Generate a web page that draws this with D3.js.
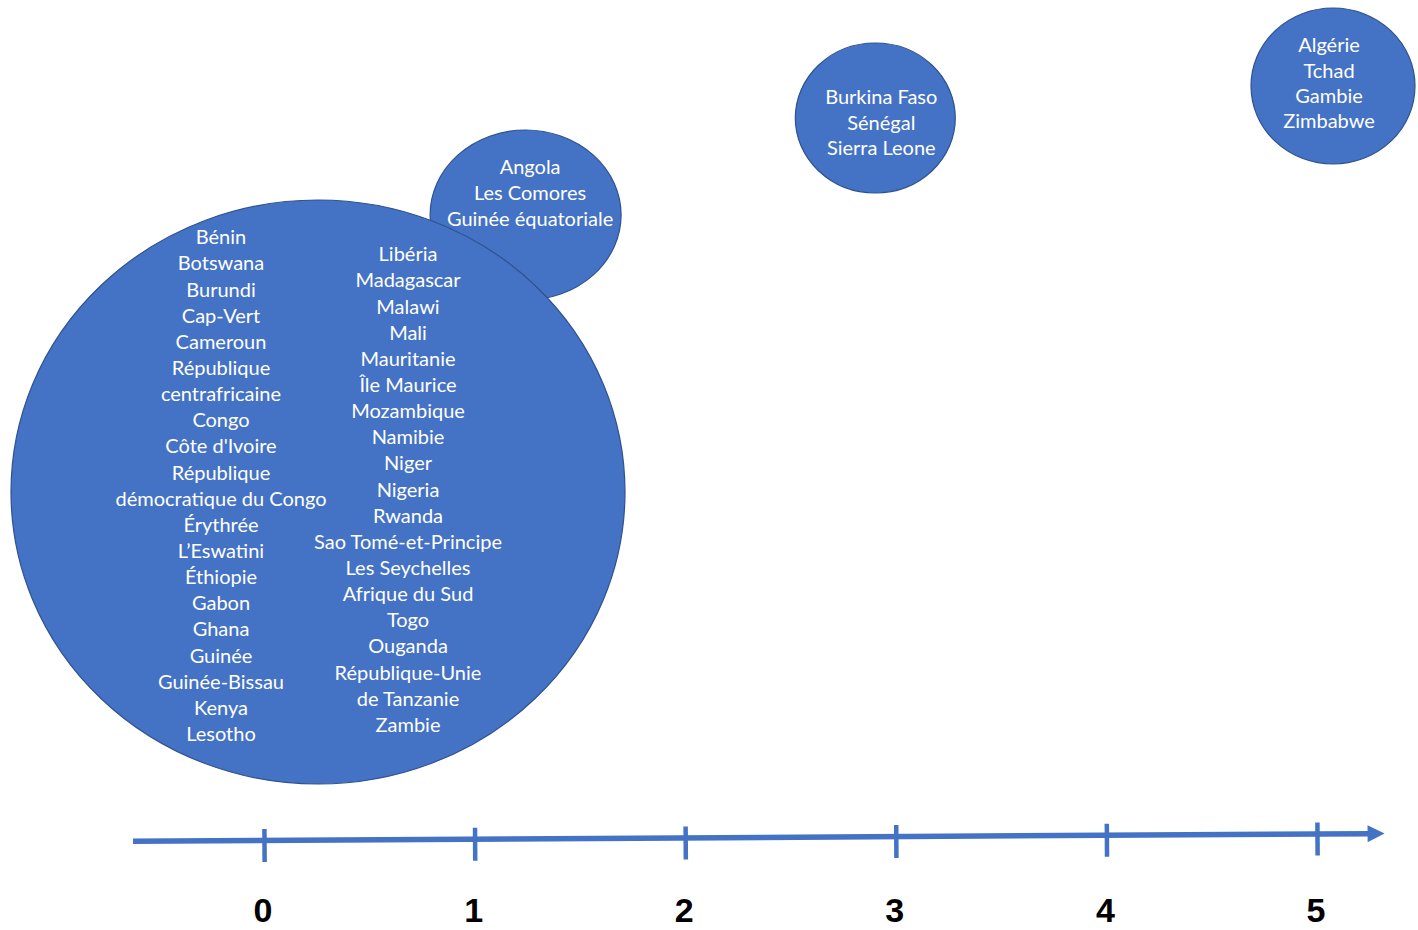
<!DOCTYPE html>
<html>
<head>
<meta charset="utf-8">
<script src="https://cdn.jsdelivr.net/npm/d3@7/dist/d3.min.js"></script>
<style>
  html, body { margin: 0; padding: 0; background: #ffffff; }
  svg { display: block; }
</style>
</head>
<body>
<svg id="chart" width="1418" height="930"></svg>
<script>
// ---------------- DATA ----------------
const axisValues = [0, 1, 2, 3, 4, 5];
const tickLabels = ["0", "1", "2", "3", "4", "5"];

// groups of countries by value on the axis ("\n" marks a line break inside a name)
const groupValues = [1, 0, 3, 5];
const group0Left = [
  "Bénin", "Botswana", "Burundi", "Cap-Vert", "Cameroun",
  "République\ncentrafricaine", "Congo", "Côte d'Ivoire",
  "République\ndémocratique du Congo", "Érythrée", "L’Eswatini",
  "Éthiopie", "Gabon", "Ghana", "Guinée", "Guinée-Bissau", "Kenya", "Lesotho"
];
const group0Right = [
  "Libéria", "Madagascar", "Malawi", "Mali", "Mauritanie", "Île Maurice",
  "Mozambique", "Namibie", "Niger", "Nigeria", "Rwanda",
  "Sao Tomé-et-Principe", "Les Seychelles", "Afrique du Sud", "Togo",
  "Ouganda", "République-Unie\nde Tanzanie", "Zambie"
];
const group1 = ["Angola", "Les Comores", "Guinée équatoriale"];
const group3 = ["Burkina Faso", "Sénégal", "Sierra Leone"];
const group5 = ["Algérie", "Tchad", "Gambie", "Zimbabwe"];

// ---------------- LAYOUT ----------------
const svg = d3.select("#chart");
const blue = "#4472C4";
const edge = "#2F528F";
const textFont = "Lato, 'Open Sans', sans-serif";

const x = d3.scaleLinear().domain([0, 5]).range([264, 1317]);

// bubble layout (pixels, relative to the axis position of each group)
const bubbleLayout = {
  1: { dx: 51, cy: 215, rx: 95.5, ry: 85 },
  0: { dx: 54,  cy: 492, rx: 307, ry: 292 },
  3: { dx: -20.5, cy: 118, rx: 80, ry: 75 },
  5: { dx: 16,  cy: 86,  rx: 82, ry: 78 }
};

const lineH = 26.15;

function lines(list) {
  return list.flatMap(s => s.split("\n"));
}

function textBlock(g, cx, firstY, list, step) {
  const ls = lines(list);
  g.selectAll(null)
    .data(ls)
    .enter()
    .append("text")
    .attr("x", cx)
    .attr("y", (d, i) => firstY + i * step)
    .attr("dy", "0.36em")
    .attr("text-anchor", "middle")
    .attr("fill", "#ffffff")
    .style("font-family", textFont)
    .style("font-size", "20px")
    .text(d => d);
}

const bubbles = svg.append("g");
groupValues.forEach(v => {
  const L = bubbleLayout[v];
  bubbles.append("ellipse")
    .attr("cx", x(v) + L.dx)
    .attr("cy", L.cy)
    .attr("rx", L.rx)
    .attr("ry", L.ry)
    .attr("fill", blue)
    .attr("stroke", edge)
    .attr("stroke-width", 1.2);
});

const labels = svg.append("g");
// group 0: two columns
textBlock(labels, x(0) - 43, 237, group0Left, lineH);
textBlock(labels, x(0) + 144, 254, group0Right, lineH);
// group 1
textBlock(labels, x(1) + 55.5, 167, group1, 26);
// group 3
textBlock(labels, x(3) - 14.5, 97, group3, 25.5);
// group 5
textBlock(labels, x(5) + 12, 45, group5, 25.4);

// ---------------- AXIS ----------------
const axisY = 840.5;
const tilt = -Math.atan2(6.5, 1052) * 180 / Math.PI;

const defs = svg.append("defs");
defs.append("marker")
  .attr("id", "arrow")
  .attr("viewBox", "0 0 10 10")
  .attr("refX", 2)
  .attr("refY", 5)
  .attr("markerUnits", "userSpaceOnUse")
  .attr("markerWidth", 18)
  .attr("markerHeight", 17)
  .attr("orient", "auto")
  .append("path")
  .attr("d", "M0,0 L10,5 L0,10 Z")
  .attr("fill", blue);

const axisG = svg.append("g")
  .attr("transform", `rotate(${tilt}, ${x(0)}, ${axisY}) translate(0, ${axisY})`);

axisG.append("line")
  .attr("x1", 133)
  .attr("x2", 1371)
  .attr("y1", 0)
  .attr("y2", 0)
  .attr("stroke", blue)
  .attr("stroke-width", 5.5)
  .attr("marker-end", "url(#arrow)");

const tickAxis = d3.axisBottom(x)
  .tickValues(axisValues)
  .tickFormat("")
  .tickSize(0);
const ta = axisG.append("g").call(tickAxis);
ta.select(".domain").remove();
ta.selectAll(".tick line")
  .attr("y1", -11.5)
  .attr("y2", 21.5)
  .attr("stroke", blue)
  .attr("stroke-width", 4.5);

const labelAxis = d3.axisBottom(x)
  .tickValues(axisValues)
  .tickFormat((d, i) => tickLabels[i])
  .tickSize(0)
  .tickPadding(0);
const la = svg.append("g")
  .attr("transform", "translate(-1.5, 922)")
  .call(labelAxis);
la.select(".domain").remove();
la.selectAll(".tick text")
  .attr("y", 0)
  .attr("dy", "0")
  .attr("fill", "#000000")
  .style("font-family", "'Liberation Sans', Arial, sans-serif")
  .style("font-weight", "bold")
  .style("font-size", "34px");
</script>
</body>
</html>
